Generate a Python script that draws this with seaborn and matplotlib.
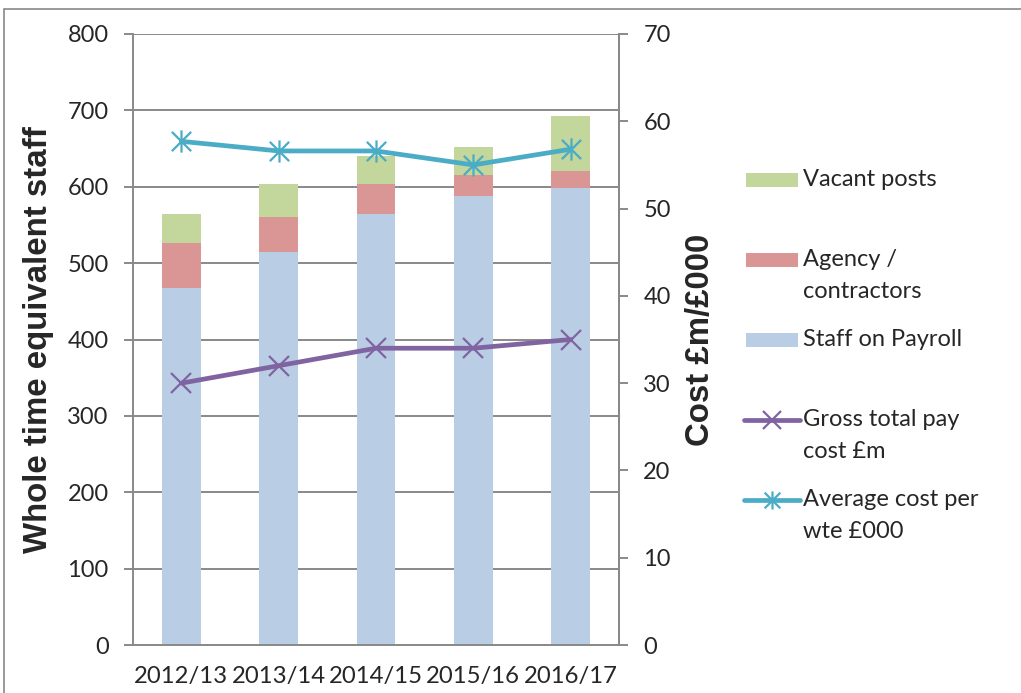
import numpy as np
import seaborn as sns
import matplotlib
matplotlib.use('Agg')
import matplotlib.pyplot as plt
from matplotlib.patches import Rectangle
from matplotlib.lines import Line2D
from matplotlib.path import Path

# data
years = ['2012/13', '2013/14', '2014/15', '2015/16', '2016/17']
payroll = [467, 514, 564, 588, 598]
agency = [59, 46, 39, 28, 22]
vacant = [38, 43, 37, 36, 72]
gross_pay = [30, 32, 34, 34, 35]
avg_cost = [57.7, 56.6, 56.6, 55.0, 56.8]

c_vacant = '#C3D69B'
c_agency = '#D99694'
c_payroll = '#B9CDE5'
c_gross = '#8064A2'
c_avg = '#4BACC6'
grey = '#898989'

sns.set_theme(style='white')
plt.rcParams['font.family'] = ['Lato', 'DejaVu Sans']

W, H = 1021, 693
fig = plt.figure(figsize=(W / 100, H / 100), dpi=100)
ax = fig.add_axes([132.7 / W, 1 - 645 / H, 486.6 / W, 611 / H])

# stacked bars: draw cumulative totals back to front
top_mid = [p + a for p, a in zip(payroll, agency)]
top_all = [t + v for t, v in zip(top_mid, vacant)]
sns.barplot(x=years, y=top_all, color=c_vacant, saturation=1, width=0.4, ax=ax, linewidth=0)
sns.barplot(x=years, y=top_mid, color=c_agency, saturation=1, width=0.4, ax=ax, linewidth=0)
sns.barplot(x=years, y=payroll, color=c_payroll, saturation=1, width=0.4, ax=ax, linewidth=0)

ax.set_ylim(0, 800)
ax.set_xlim(-0.5, 4.5)
ax.set_yticks(range(0, 801, 100))
ax.yaxis.grid(True, color=grey, lw=1.4)
ax.set_axisbelow(True)
ax.spines['top'].set_visible(False)
for s in ['left', 'bottom', 'right']:
    ax.spines[s].set_color(grey)
    ax.spines[s].set_linewidth(1.4)

ax.set_xticks(np.arange(-0.5, 5, 1), minor=True)
ax.tick_params(axis='x', which='major', length=0, pad=15, labelsize=17.2)
ax.tick_params(axis='x', which='minor', length=6, width=1.4, color=grey, direction='out')
ax.tick_params(axis='y', length=6.3, width=1.4, color=grey, direction='out', pad=11, labelsize=17)
ax.set_xlabel('')
ax.set_ylabel('Whole time equivalent staff', fontsize=23.8, fontweight='bold',
              family='Liberation Sans')
ax.yaxis.set_label_coords(-0.161, 0.5)

# line series on secondary axis
ax2 = ax.twinx()
star = Path([(-1, -1), (1, 1), (-1, 1), (1, -1), (0, -1.15), (0, 1.15)],
            [Path.MOVETO, Path.LINETO, Path.MOVETO, Path.LINETO, Path.MOVETO, Path.LINETO])
xpos = np.arange(len(years))
sns.lineplot(x=xpos, y=gross_pay, ax=ax2, color=c_gross, lw=3.4, marker='x',
             ms=14, mew=1.6, mec=c_gross)
sns.lineplot(x=xpos, y=avg_cost, ax=ax2, color=c_avg, lw=3.4, marker=star,
             ms=16, mew=1.6, mec=c_avg, mfc='none')
ax2.set_ylim(0, 70)
ax2.set_xlim(-0.5, 4.5)
ax2.set_yticks(range(0, 71, 10))
for s in ['top', 'left', 'bottom']:
    ax2.spines[s].set_visible(False)
ax2.spines['right'].set_color(grey)
ax2.spines['right'].set_linewidth(1.4)
ax2.tick_params(axis='y', length=6.3, width=1.4, color=grey, direction='out', pad=11, labelsize=17)
ax2.set_ylabel('Cost £m/£000', fontsize=23.8, fontweight='bold', family='Liberation Sans')
ax2.yaxis.set_label_coords(1.134, 0.5)

# legend laid out like the original (handle aligned with first text line)
entries = [
    ('patch', c_vacant, 'Vacant posts', None),
    ('patch', c_agency, 'Agency /\ncontractors', None),
    ('patch', c_payroll, 'Staff on Payroll', None),
    ('line', c_gross, 'Gross total pay\ncost £m', 'x'),
    ('line', c_avg, 'Average cost per\nwte £000', star),
]
for i, (kind, col, label, mk) in enumerate(entries):
    yc = 180 + 80 * i
    fy = 1 - yc / H
    if kind == 'patch':
        fig.add_artist(Rectangle((746 / W, 1 - (yc + 7) / H), 52 / W, 14 / H,
                                 transform=fig.transFigure, color=col, lw=0))
    else:
        fig.add_artist(Line2D([744 / W, 772 / W, 800 / W], [fy] * 3, transform=fig.transFigure,
                              color=col, lw=3.4, marker=mk, markevery=[1], ms=13,
                              mew=1.6, mec=col, mfc='none', solid_capstyle='round'))
    for k, line in enumerate(label.split('\n')):
        fig.text(803 / W, 1 - (yc + 32 * k) / H, line, fontsize=17, va='center', ha='left')

# outer chart frame
fig.add_artist(Rectangle((4 / W, -0.1), 2, 1 - 9 / H + 0.1, transform=fig.transFigure,
                         fill=False, edgecolor=grey, lw=1.2))

fig.savefig('out.png', dpi=100)
